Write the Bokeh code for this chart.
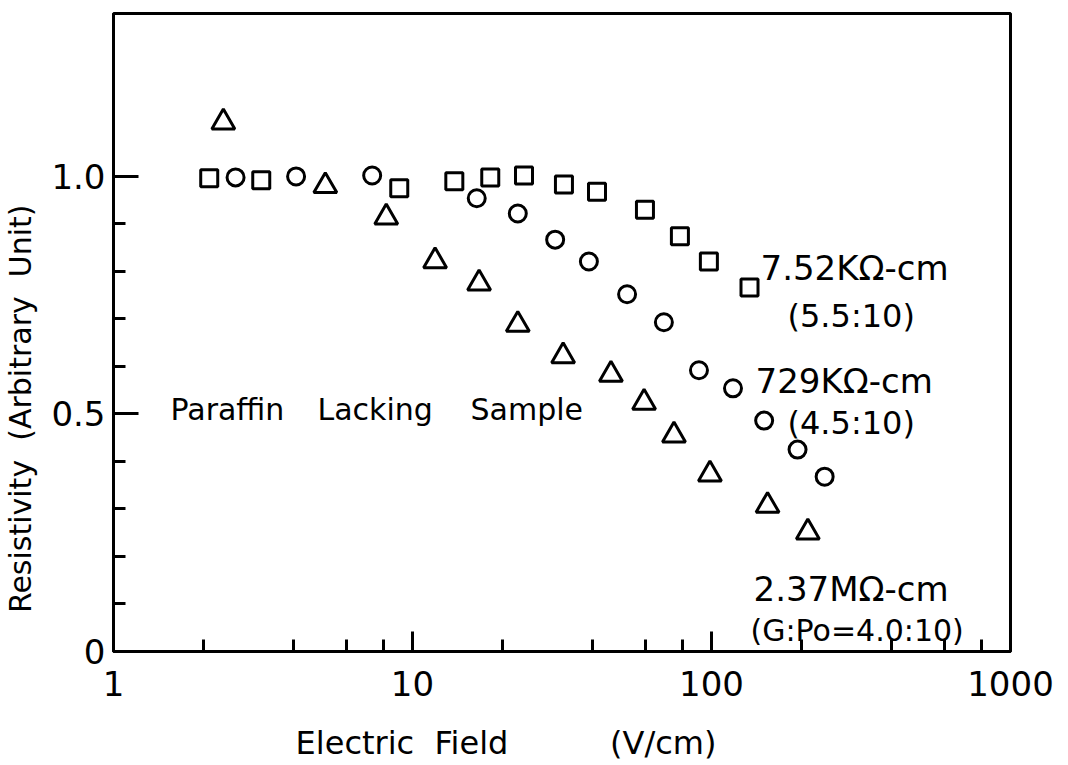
from bokeh.plotting import figure
from bokeh.models import Range1d, FixedTicker, Label, NumeralTickFormatter
from bokeh.embed import file_html
from bokeh.resources import INLINE

# ---- data ----
sq_x = [2.09, 3.12, 9.03, 13.8, 18.2, 23.6, 32.1, 41.4, 59.9, 78.4, 98.0, 134.0]
sq_y = [0.996, 0.992, 0.975, 0.990, 0.998, 1.002, 0.983, 0.968, 0.930, 0.874, 0.821, 0.766]

ci_x = [2.56, 4.08, 7.33, 16.4, 22.5, 30.0, 38.9, 52.2, 69.3, 90.8, 118.0, 150.0, 194.0, 239.0]
ci_y = [0.998, 1.000, 1.002, 0.954, 0.922, 0.867, 0.821, 0.752, 0.693, 0.592, 0.554, 0.486, 0.425, 0.368]

tr_x = [2.33, 5.11, 8.17, 11.9, 16.7, 22.5, 31.9, 46.1, 59.5, 74.9, 98.8, 154.0, 210.0]
tr_y = [1.114, 0.980, 0.914, 0.822, 0.775, 0.688, 0.622, 0.583, 0.524, 0.455, 0.373, 0.307, 0.251]

x_major_ticks = [1, 10, 100, 1000]
x_minor_ticks = [2, 4, 6, 8, 20, 40, 60, 80, 200, 400, 600, 800]
y_major_ticks = [0, 0.5, 1.0]
y_minor_ticks = [0.1, 0.2, 0.3, 0.4, 0.6, 0.7, 0.8, 0.9]
y_tick_labels = {0: "0", 0.5: "0.5", 1: "1.0"}

NB = "\u00a0"
x_title = "Electric" + NB * 2 + "Field" + NB * 10 + "(V/cm)" + NB * 11
y_title = "Resistivity" + NB * 2 + "(Arbitrary" + NB * 2 + "Unit)" + NB * 16

FONT = "DejaVu Sans"

p = figure(width=1068, height=765, x_axis_type="log",
           x_range=Range1d(1, 1000), y_range=Range1d(0, 1.343),
           output_backend="svg", toolbar_location=None,
           min_border_left=113, min_border_right=58,
           min_border_top=13, min_border_bottom=114)
p.grid.visible = False
p.outline_line_color = "black"
p.outline_line_width = 3
p.background_fill_color = "white"
p.border_fill_color = "white"

xa = p.xaxis[0]
xa.ticker = FixedTicker(ticks=x_major_ticks, minor_ticks=x_minor_ticks)
xa.formatter = NumeralTickFormatter(format="0")
xa.axis_line_width = 3
xa.major_tick_line_width = 3
xa.minor_tick_line_width = 3
xa.major_tick_in = 20
xa.major_tick_out = 0
xa.minor_tick_in = 12
xa.minor_tick_out = 0
xa.major_label_standoff = 19
xa.major_label_text_font = FONT
xa.major_label_text_font_size = "34px"
xa.major_label_text_color = "black"
xa.axis_label = x_title
xa.axis_label_text_font = FONT
xa.axis_label_text_font_size = "32px"
xa.axis_label_text_font_style = "normal"
xa.axis_label_text_color = "black"
xa.axis_label_standoff = 25

ya = p.yaxis[0]
ya.ticker = FixedTicker(ticks=y_major_ticks, minor_ticks=y_minor_ticks)
ya.formatter = NumeralTickFormatter(format="0.0")
ya.major_label_overrides = y_tick_labels
ya.axis_line_width = 3
ya.major_tick_line_width = 3
ya.minor_tick_line_width = 3
ya.major_tick_in = 25
ya.major_tick_out = 0
ya.minor_tick_in = 12
ya.minor_tick_out = 0
ya.major_label_standoff = 8
ya.major_label_text_font = FONT
ya.major_label_text_font_size = "34px"
ya.major_label_text_color = "black"
ya.axis_label = y_title
ya.axis_label_text_font = FONT
ya.axis_label_text_font_size = "30px"
ya.axis_label_text_font_style = "normal"
ya.axis_label_text_color = "black"
ya.axis_label_standoff = 10

p.scatter(sq_x, sq_y, marker="square", size=17, fill_color=None,
          line_color="black", line_width=3)
p.scatter(ci_x, ci_y, marker="circle", size=17, fill_color=None,
          line_color="black", line_width=3)
p.scatter(tr_x, tr_y, marker="triangle", size=23, fill_color=None,
          line_color="black", line_width=3)

# frame: left=113, bottom=651 (screen units are relative to frame bottom-left)
L, B = 113, 651

def lab(text, px, py, size):
    p.add_layout(Label(x=px - L, y=B - py, x_units="screen", y_units="screen",
                       text=text, text_font=FONT, text_font_size=size,
                       text_color="black", text_align="left",
                       text_baseline="alphabetic"))

# annotations
lab("Paraffin", 170, 409, "30px")
lab("Lacking", 317, 409, "30px")
lab("Sample", 470, 409, "30px")
lab("7.52KΩ-cm", 760, 267, "34px")
lab("(5.5:10)", 787, 315, "32px")
lab("729KΩ-cm", 755, 380, "34px")
lab("(4.5:10)", 787, 422, "32px")
lab("2.37MΩ-cm", 753, 588, "34px")
lab("(G:Po=4.0:10)", 750, 630, "30px")

open("out.html", "w").write(file_html(p, INLINE))
